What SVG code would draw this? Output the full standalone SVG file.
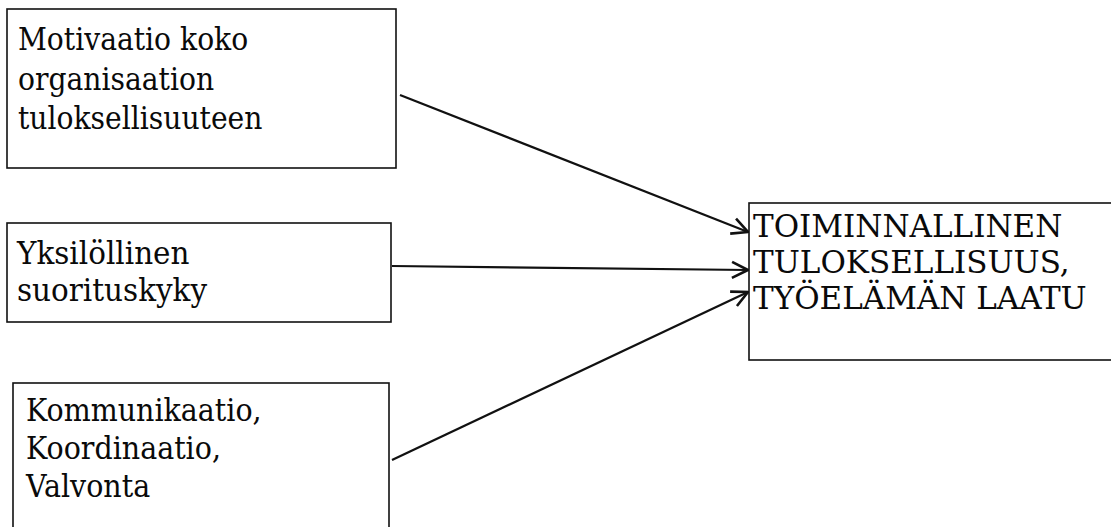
<svg xmlns="http://www.w3.org/2000/svg" width="1111" height="527" viewBox="0 0 1111 527">
  <style>
    .box { fill: #fff; stroke: #111; stroke-width: 1.6; }
    .lbl { font-family: "DejaVu Serif", serif; font-size: 31px; fill: #0a0a0a; }
    .edge { fill: none; stroke: #111; stroke-width: 2.2; }
  </style>
  <defs>
    <marker id="vhead" viewBox="0 0 20 20" refX="19" refY="10" markerWidth="20" markerHeight="20" markerUnits="userSpaceOnUse" orient="auto">
      <path d="M3,2 L19,10 L3,18" fill="none" stroke="#111" stroke-width="2.6" stroke-linejoin="miter"/>
    </marker>
  </defs>
  <rect width="1111" height="527" fill="#fff"/>

  <g id="motivaatio">
    <rect class="box" x="7" y="9" width="389" height="159"/>
    <g transform="translate(18 0) scale(0.91 1)">
      <text class="lbl" x="0" y="50">Motivaatio koko</text>
      <text class="lbl" x="0" y="90">organisaation</text>
      <text class="lbl" x="0" y="129">tuloksellisuuteen</text>
    </g>
  </g>

  <g id="suorituskyky">
    <rect class="box" x="7" y="223" width="384" height="99"/>
    <g transform="translate(17 0) scale(0.95 1)">
      <text class="lbl" x="0" y="264">Yksilöllinen</text>
      <text class="lbl" x="0" y="301">suorituskyky</text>
    </g>
  </g>

  <g id="kommunikaatio">
    <rect class="box" x="13" y="383" width="376" height="160"/>
    <g transform="translate(26 0) scale(0.92 1)">
      <text class="lbl" x="0" y="421">Kommunikaatio,</text>
      <text class="lbl" x="0" y="459">Koordinaatio,</text>
      <text class="lbl" x="0" y="497">Valvonta</text>
    </g>
  </g>

  <g id="tuloksellisuus">
    <rect class="box" x="749" y="203" width="380" height="157"/>
    <text class="lbl" x="753" y="237">TOIMINNALLINEN</text>
    <text class="lbl" x="753" y="273">TULOKSELLISUUS,</text>
    <text class="lbl" x="753" y="309">TYÖELÄMÄN LAATU</text>
  </g>

  <g id="connectors">
    <line class="edge" x1="400" y1="95" x2="748" y2="232" marker-end="url(#vhead)"/>
    <line class="edge" x1="392" y1="266" x2="748" y2="270" marker-end="url(#vhead)"/>
    <line class="edge" x1="392" y1="460" x2="748" y2="292" marker-end="url(#vhead)"/>
  </g>
</svg>
